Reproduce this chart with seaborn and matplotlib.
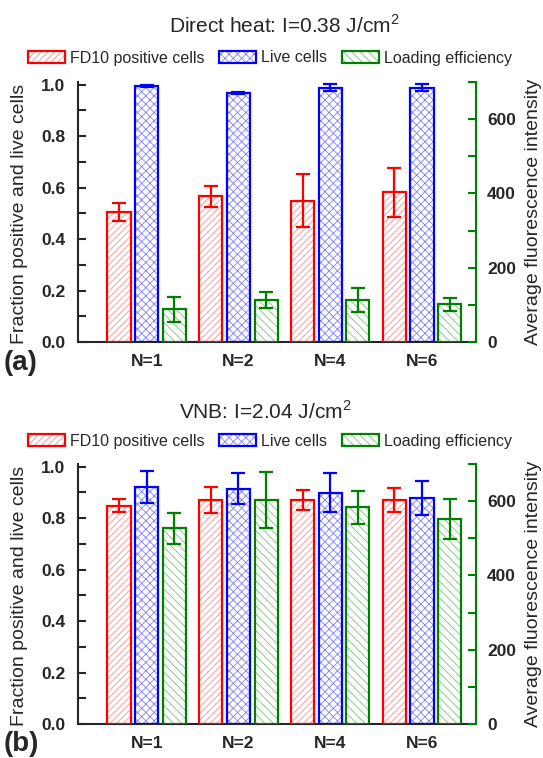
import numpy as np
import pandas as pd
import matplotlib
matplotlib.use("Agg")
import matplotlib.pyplot as plt
import seaborn as sns
from matplotlib.patches import Patch, Rectangle
from matplotlib.legend_handler import HandlerTuple
from matplotlib.ticker import MultipleLocator

# ---------------- data ----------------
groups = ["N=1", "N=2", "N=4", "N=6"]
series = ["FD10 positive cells", "Live cells", "Loading efficiency"]

a_fd10 = [0.505, 0.566, 0.548, 0.582]
a_fd10_err = [0.034, 0.040, 0.103, 0.095]
a_live = [0.994, 0.968, 0.988, 0.988]
a_live_err = [0.005, 0.004, 0.013, 0.013]
a_load = [88.6, 112.8, 113.7, 101.2]
a_load_err = [33.6, 22.4, 31.7, 16.5]

b_fd10 = [0.848, 0.870, 0.870, 0.870]
b_fd10_err = [0.025, 0.050, 0.038, 0.048]
b_live = [0.922, 0.914, 0.899, 0.878]
b_live_err = [0.062, 0.060, 0.077, 0.067]
b_load = [527.0, 602.5, 583.0, 552.5]
b_load_err = [42.0, 76.0, 45.0, 54.0]

titles = ["Direct heat: I=0.38 J/cm$^2$", "VNB: I=2.04 J/cm$^2$"]
panel_labels = ["(a)", "(b)"]
left_label = "Fraction positive and live cells"
right_label = "Average fluorescence intensity"

# ---------------- style ----------------
sns.set_style("white")
plt.rcParams["font.family"] = ["Liberation Sans", "DejaVu Sans"]
plt.rcParams["hatch.linewidth"] = 0.6
plt.rcParams["mathtext.fontset"] = "custom"
plt.rcParams["mathtext.rm"] = "Liberation Sans"

edge_cols = {series[0]: "#ff0000", series[1]: "#0000ff", series[2]: "#008000"}
hatch_cols = {series[0]: "#ff9090", series[1]: "#8080ff", series[2]: "#80c080"}
hatches = {series[0]: "/////", series[1]: "xxxx", series[2]: "\\\\\\\\"}

W, H = 543, 758
fig = plt.figure(figsize=(W / 100, H / 100), dpi=100)

def fx(px):
    return px / W

def fy(py):
    return 1 - py / H

panels = [
    dict(fd=a_fd10, fde=a_fd10_err, lv=a_live, lve=a_live_err, ld=a_load, lde=a_load_err,
         top=82, bot=342, title_x=284, title_y=26, leg_y=58, lab_y=363),
    dict(fd=b_fd10, fde=b_fd10_err, lv=b_live, lve=b_live_err, ld=b_load, lde=b_load_err,
         top=464, bot=724, title_x=265, title_y=411, leg_y=441, lab_y=744),
]

ax_left_px, ax_right_px = 78, 476

def style_bar(ax, p, name, err):
    p.set_facecolor("white")
    p.set_edgecolor(hatch_cols[name])
    p.set_hatch(hatches[name])
    p.set_linewidth(0)
    r = Rectangle((p.get_x(), p.get_y()), p.get_width(), p.get_height(),
                  fill=False, edgecolor=edge_cols[name], linewidth=1.6, zorder=3)
    ax.add_patch(r)
    cx = p.get_x() + p.get_width() / 2
    ax.errorbar([cx], [p.get_height()], yerr=[err], color=edge_cols[name],
                capsize=5, capthick=1.6, elinewidth=1.6, zorder=4, fmt="none")

for i, P in enumerate(panels):
    rect = [fx(ax_left_px), fy(P["bot"]), fx(ax_right_px - ax_left_px), (P["bot"] - P["top"]) / H]
    ax = fig.add_axes(rect)
    ax2 = ax.twinx()

    df = pd.DataFrame({
        "group": groups * 3,
        "series": [series[0]] * 4 + [series[1]] * 4 + [series[2]] * 4,
        "value": P["fd"] + P["lv"] + P["ld"],
    })
    errs = {series[0]: P["fde"], series[1]: P["lve"], series[2]: P["lde"]}

    # same dodge layout on both axes; keep only the series belonging to each axis
    for a, keep in [(ax, (series[0], series[1])), (ax2, (series[2],))]:
        sns.barplot(data=df, x="group", y="value", hue="series", hue_order=series,
                    order=groups, ax=a, errorbar=None, width=0.905, gap=0.16, legend=False)
        ps = sorted(list(a.patches), key=lambda p: p.get_x())
        for k, p in enumerate(ps):
            g, s = divmod(k, 3)
            name = series[s]
            if name in keep:
                style_bar(a, p, name, errs[name][g])
            else:
                p.remove()

    ax.set_xlim(-0.75, 3.59)
    ax.set_ylim(0, 1.01)
    ax2.set_ylim(0, 700)

    ax.set_xlabel("")
    ax.set_ylabel("")
    ax2.set_ylabel("")

    for s in ["top", "right"]:
        ax.spines[s].set_visible(False)
    ax.spines["left"].set_linewidth(1.5)
    ax.spines["bottom"].set_linewidth(1.5)
    for s in ["top", "left", "bottom"]:
        ax2.spines[s].set_visible(False)
    ax2.spines["right"].set_color(edge_cols[series[2]])
    ax2.spines["right"].set_linewidth(1.5)

    ax.set_yticks([0, 0.2, 0.4, 0.6, 0.8, 1.0])
    ax.set_yticklabels(["0.0", "0.2", "0.4", "0.6", "0.8", "1.0"])
    ax.yaxis.set_minor_locator(MultipleLocator(0.1))
    ax.tick_params(axis="y", which="major", direction="in", length=6, width=1.5,
                   labelsize=12.5, pad=9, left=True)
    ax.tick_params(axis="y", which="minor", direction="in", length=6, width=1.5, left=True)
    ax.tick_params(axis="x", length=0, labelsize=12.5, pad=9)
    for t in ax.get_yticklabels() + ax.get_xticklabels():
        t.set_fontweight("bold")

    ax2.set_yticks([0, 200, 400, 600])
    ax2.yaxis.set_minor_locator(MultipleLocator(100))
    ax2.tick_params(axis="y", which="major", direction="in", length=6, width=1.5,
                    color=edge_cols[series[2]], labelsize=12.5, pad=8, right=True)
    ax2.tick_params(axis="y", which="minor", direction="in", length=6, width=1.5,
                    color=edge_cols[series[2]], right=True)
    for t in ax2.get_yticklabels():
        t.set_fontweight("bold")

    # titles, axis labels, panel labels
    fig.text(fx(P["title_x"]), fy(P["title_y"]), titles[i], ha="center", va="center", fontsize=15)
    mid = (P["top"] + P["bot"]) / 2
    fig.text(fx(20), fy(mid + 2), left_label, rotation=90, ha="center", va="center", fontsize=14)
    fig.text(fx(533), fy(mid), right_label, rotation=90, ha="center", va="center", fontsize=14)
    fig.text(fx(4), fy(P["lab_y"]), panel_labels[i], ha="left", va="center",
             fontsize=20, fontweight="bold")

    # legend
    handles = []
    for s in series:
        hp = Patch(facecolor="white", edgecolor=hatch_cols[s], hatch=hatches[s], linewidth=0)
        ep = Patch(facecolor="none", edgecolor=edge_cols[s], linewidth=1.6)
        handles.append((hp, ep))
    fig.legend(handles, series, loc="center", bbox_to_anchor=(fx(270), fy(P["leg_y"])),
               ncol=3, frameon=False, fontsize=11.5, handlelength=2.3, handleheight=0.85,
               handletextpad=0.35, columnspacing=0.9, borderpad=0, borderaxespad=0,
               handler_map={tuple: HandlerTuple(ndivide=1, pad=0)})

fig.savefig("out.png", dpi=100)
